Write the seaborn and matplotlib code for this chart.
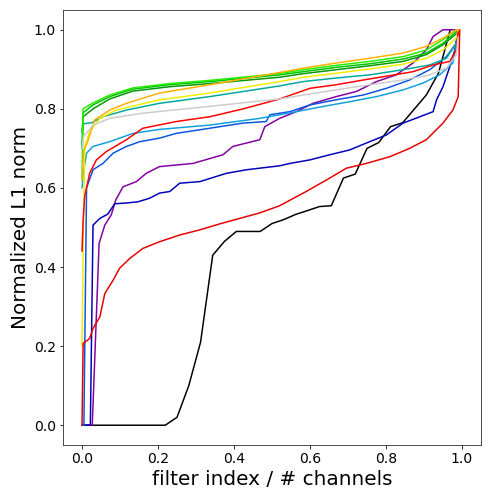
import matplotlib
matplotlib.use("Agg")
import matplotlib.pyplot as plt
import seaborn as sns

# normalized L1 norm of sorted filters, one curve per conv layer
x_black = [0.0, 0.031, 0.062, 0.094, 0.125, 0.156, 0.188, 0.219, 0.25, 0.281, 0.312, 0.344, 0.375, 0.406,
           0.438, 0.469, 0.5, 0.531, 0.562, 0.594, 0.625, 0.656, 0.688, 0.719, 0.75, 0.781, 0.812, 0.844,
           0.875, 0.906, 0.938, 0.969]
y_black = [0, 0, 0, 0, 0, 0, 0, 0, 0.02, 0.10, 0.21, 0.43, 0.465, 0.49, 0.49, 0.49, 0.51, 0.52, 0.533,
           0.543, 0.553, 0.555, 0.625, 0.635, 0.70, 0.715, 0.755, 0.765, 0.80, 0.835, 0.89, 1.0]

x_purple = [0, 0.027, 0.045, 0.06, 0.077, 0.089, 0.108, 0.143, 0.169, 0.204, 0.292, 0.371, 0.397, 0.468,
            0.481, 0.52, 0.564, 0.608, 0.669, 0.722, 0.775, 0.827, 0.871, 0.906, 0.924, 0.95, 0.99]
y_purple = [0, 0, 0.46, 0.506, 0.532, 0.57, 0.603, 0.616, 0.637, 0.654, 0.662, 0.684, 0.705, 0.722,
            0.755, 0.776, 0.793, 0.814, 0.831, 0.844, 0.869, 0.886, 0.916, 0.949, 0.983, 1.0, 1.0]

x_navy = [0, 0.022, 0.029, 0.047, 0.068, 0.086, 0.117, 0.147, 0.178, 0.204, 0.231, 0.257, 0.31, 0.38,
          0.433, 0.52, 0.547, 0.6, 0.652, 0.704, 0.757, 0.801, 0.845, 0.889, 0.924, 0.933, 0.95, 0.968,
          0.981, 0.99]
y_navy = [0, 0, 0.506, 0.523, 0.534, 0.56, 0.562, 0.565, 0.574, 0.587, 0.591, 0.612, 0.616, 0.637,
          0.646, 0.656, 0.662, 0.671, 0.684, 0.696, 0.717, 0.734, 0.764, 0.78, 0.793, 0.823, 0.856, 0.907,
          0.949, 1.0]

x_blue = [0, 0.005, 0.012, 0.029, 0.055, 0.082, 0.117, 0.152, 0.204, 0.248, 0.336, 0.424, 0.485, 0.494,
          0.547, 0.6, 0.669, 0.74, 0.801, 0.862, 0.915, 0.959, 0.985, 0.99]
y_blue = [0, 0, 0.60, 0.646, 0.662, 0.688, 0.705, 0.717, 0.726, 0.738, 0.751, 0.764, 0.768, 0.785,
          0.793, 0.81, 0.823, 0.835, 0.852, 0.873, 0.899, 0.932, 0.966, 1.0]

x_lightblue = [0, 0.004, 0.012, 0.029, 0.073, 0.134, 0.204, 0.336, 0.468, 0.52, 0.564, 0.634, 0.704,
               0.775, 0.845, 0.897, 0.941, 0.976, 0.99]
y_lightblue = [0.60, 0.64, 0.688, 0.705, 0.717, 0.738, 0.748, 0.759, 0.776, 0.785, 0.793, 0.806, 0.818,
               0.831, 0.848, 0.865, 0.886, 0.916, 0.99]

x_teal = [0, 0.003, 0.025, 0.055, 0.117, 0.204, 0.336, 0.52, 0.582, 0.669, 0.757, 0.845, 0.915, 0.959,
          0.985, 0.99]
y_teal = [0.70, 0.762, 0.765, 0.78, 0.797, 0.814, 0.831, 0.858, 0.869, 0.878, 0.886, 0.899, 0.911, 0.928,
          0.966, 0.995]

x_green = [0, 0.003, 0.029, 0.073, 0.134, 0.231, 0.336, 0.52, 0.582, 0.669, 0.757, 0.845, 0.906, 0.95,
           0.985, 0.99]
y_darkgreen = [0.74, 0.78, 0.80, 0.825, 0.845, 0.856, 0.864, 0.88, 0.889, 0.899, 0.909, 0.92, 0.937,
               0.962, 0.99, 0.995]
y_green = [0.70, 0.79, 0.81, 0.831, 0.85, 0.861, 0.869, 0.886, 0.894, 0.905, 0.914, 0.926, 0.941, 0.966,
           0.995, 1.0]
y_lime = [0.62, 0.80, 0.815, 0.835, 0.853, 0.864, 0.872, 0.889, 0.899, 0.91, 0.92, 0.932, 0.949, 0.975,
          1.0, 1.0]

x_yellow = [0, 0.003, 0.007, 0.02, 0.047, 0.09, 0.204, 0.336, 0.52, 0.582, 0.669, 0.757, 0.845, 0.906,
            0.95, 0.985, 0.99]
y_yellow = [0.20, 0.435, 0.705, 0.742, 0.776, 0.797, 0.823, 0.84, 0.869, 0.88, 0.89, 0.901, 0.913, 0.928,
            0.949, 0.979, 1.0]

x_orange = [0, 0.004, 0.016, 0.033, 0.073, 0.117, 0.204, 0.336, 0.52, 0.582, 0.669, 0.757, 0.845, 0.906,
            0.95, 0.985, 0.99]
y_orange = [0.62, 0.692, 0.72, 0.772, 0.797, 0.814, 0.84, 0.861, 0.892, 0.903, 0.916, 0.928, 0.941, 0.958,
            0.979, 1.0, 1.0]

x_red = [0, 0.003, 0.007, 0.02, 0.038, 0.064, 0.117, 0.16, 0.248, 0.336, 0.424, 0.52, 0.6, 0.669, 0.74,
         0.81, 0.871, 0.924, 0.968, 0.985, 0.99]
y_red = [0.44, 0.52, 0.578, 0.637, 0.671, 0.692, 0.722, 0.751, 0.768, 0.78, 0.80, 0.825, 0.852, 0.861,
         0.873, 0.884, 0.894, 0.911, 0.92, 0.949, 0.995]

x_red_low = [0, 0.003, 0.02, 0.029, 0.047, 0.06, 0.082, 0.099, 0.126, 0.16, 0.204, 0.257, 0.31, 0.362,
             0.415, 0.468, 0.52, 0.59, 0.643, 0.696, 0.748, 0.81, 0.862, 0.906, 0.95, 0.976, 0.99, 0.994]
y_red_low = [0, 0.207, 0.219, 0.245, 0.274, 0.333, 0.367, 0.397, 0.422, 0.447, 0.464, 0.481, 0.494,
             0.509, 0.523, 0.537, 0.555, 0.591, 0.62, 0.65, 0.662, 0.679, 0.70, 0.722, 0.764, 0.797,
             0.831, 1.0]

x_gray = [0, 0.004, 0.029, 0.073, 0.16, 0.292, 0.52, 0.582, 0.669, 0.757, 0.845, 0.915, 0.959, 0.985, 0.99]
y_gray = [0.70, 0.73, 0.759, 0.776, 0.789, 0.802, 0.825, 0.835, 0.848, 0.861, 0.873, 0.886, 0.903, 0.937,
          0.983]

curves = [
    (x_black, y_black, "#000000"),
    (x_purple, y_purple, "#8200a0"),
    (x_navy, y_navy, "#0000bb"),
    (x_blue, y_blue, "#0a55e0"),
    (x_lightblue, y_lightblue, "#10a0dd"),
    (x_teal, y_teal, "#00aa99"),
    (x_green, y_darkgreen, "#009900"),
    (x_green, y_green, "#00c000"),
    (x_green, y_lime, "#22ee00"),
    (x_yellow, y_yellow, "#eeee00"),
    (x_orange, y_orange, "#ffb000"),
    (x_red, y_red, "#ff0000"),
    (x_red_low, y_red_low, "#e60000"),
    (x_gray, y_gray, "#cccccc"),
]

sns.set_style("ticks")
fig = plt.figure(figsize=(492 / 72, 492 / 72), dpi=72)
ax = fig.add_axes([63 / 492, 47 / 492, 418 / 492, 435 / 492])

for xs, ys, color in curves:
    sns.lineplot(x=xs, y=ys, color=color, linewidth=1.5, sort=False, estimator=None, ax=ax)

ax.set_xlim(-0.05, 1.05)
ax.set_ylim(-0.05, 1.05)
ax.set_xticks([0.0, 0.2, 0.4, 0.6, 0.8, 1.0])
ax.set_yticks([0.0, 0.2, 0.4, 0.6, 0.8, 1.0])
ax.tick_params(labelsize=14, colors="black")
ax.set_xlabel("filter index / # channels", fontsize=20, color="black")
ax.set_ylabel("Normalized L1 norm", fontsize=20, color="black")

fig.savefig("out.png", dpi=72)
